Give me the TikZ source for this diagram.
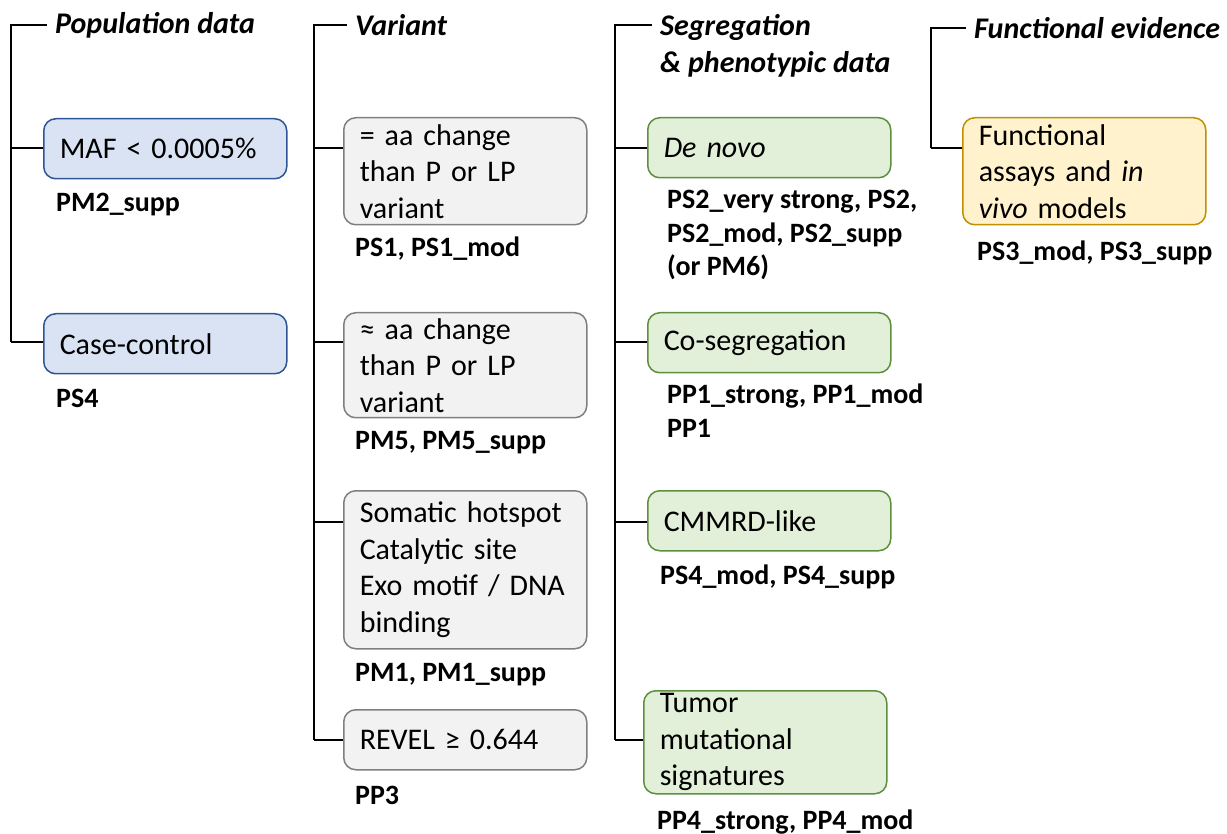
\documentclass[tikz,border=0pt]{standalone}
\usepackage{fontspec}
\setmainfont{Carlito}
\usetikzlibrary{shapes.misc}

\definecolor{popfill}{HTML}{DAE3F3}
\definecolor{popline}{HTML}{2F5597}
\definecolor{varfill}{HTML}{F2F2F2}
\definecolor{varline}{HTML}{7F7F7F}
\definecolor{segfill}{HTML}{E2F0D9}
\definecolor{segline}{HTML}{5E8F3E}
\definecolor{funfill}{HTML}{FFF2CC}
\definecolor{funline}{HTML}{BF9000}

\tikzset{
  critbox/.style={draw, rectangle, rounded corners=12pt, line width=1.5pt,
    anchor=north west, minimum width=243pt, minimum height=60pt,
    text width=211pt, inner xsep=16pt, inner ysep=2pt, align=left,
    font=\fontsize{30}{36.5}\selectfont},
  popbox/.style={critbox, fill=popfill, draw=popline},
  varbox/.style={critbox, fill=varfill, draw=varline},
  segbox/.style={critbox, fill=segfill, draw=segline},
  funbox/.style={critbox, fill=funfill, draw=funline},
  evid/.style={anchor=west, inner sep=0pt, align=left,
    font=\fontsize{28}{33.5}\selectfont\bfseries},
  colhead/.style={anchor=west, inner xsep=8pt, inner ysep=0pt, align=left,
    font=\fontsize{30}{37}\selectfont\bfseries\itshape},
  link/.style={line width=2pt}
}

\begin{document}
\begin{tikzpicture}[x=1pt, y=-1pt]

  \useasboundingbox (0,0) rectangle (1227,834);

  % --- Population data ---
  \coordinate (p0) at (11,25);
  \coordinate (p1) at (11,148);
  \coordinate (p2) at (11,342);
  \node[colhead] (pophead) at (47,25) {Population data};
  \node[popbox] (maf) at (43,118) {MAF < 0.0005\%};
  \node[evid] (mafev) at (56,205) {PM2\_supp};
  \node[popbox] (casectl) at (43,313) {Case-control};
  \node[evid] (casectlev) at (56,398) {PS4};
  \draw[link] (pophead.west) -- (p0) -- (p2);
  \draw[link] (p1) -- (p1 -| maf.west);
  \draw[link] (p2) -- (p2 -| casectl.west);

  % --- Variant ---
  \coordinate (v0) at (314,25);
  \coordinate (v1) at (314,148);
  \coordinate (v2) at (314,342);
  \coordinate (v3) at (314,522);
  \coordinate (v4) at (314,740);
  \node[colhead] (varhead) at (347,25) {Variant};
  \node[varbox, minimum height=107pt] (sameaa) at (343,117)
    {= aa change\\than P or LP\\variant};
  \node[evid] (sameaaev) at (355,249) {PS1, PS1\_mod};
  \node[varbox, minimum height=105pt] (simaa) at (343,312)
    {≈ aa change\\than P or LP\\variant};
  \node[evid] (simaaev) at (355,443) {PM5, PM5\_supp};
  \node[varbox, minimum height=158pt] (hotspot) at (343,490)
    {Somatic hotspot\\Catalytic site\\Exo motif / DNA\\binding};
  \node[evid] (hotspotev) at (355,675) {PM1, PM1\_supp};
  \node[varbox] (revel) at (343,709) {REVEL ≥ 0.644};
  \node[evid] (revelev) at (355,795) {PP3};
  \draw[link] (varhead.west) -- (v0) -- (v4);
  \draw[link] (v1) -- (v1 -| sameaa.west);
  \draw[link] (v2) -- (v2 -| simaa.west);
  \draw[link] (v3) -- (v3 -| hotspot.west);
  \draw[link] (v4) -- (v4 -| revel.west);

  % --- Segregation & phenotypic data ---
  \coordinate (s0) at (615,25);
  \coordinate (s1) at (615,148);
  \coordinate (s2) at (615,342);
  \coordinate (s3) at (615,522);
  \coordinate (s4) at (615,740);
  \node[colhead, anchor=north west] (seghead) at (652,14)
    {Segregation\\\& phenotypic data};
  \node[segbox] (denovo) at (647,117) {\itshape De novo};
  \node[evid, anchor=north west] (denovoev) at (667,190)
    {PS2\_very strong, PS2,\\PS2\_mod, PS2\_supp\\(or PM6)};
  \node[segbox] (coseg) at (647,312) {Co-segregation};
  \node[evid, anchor=north west] (cosegev) at (667,384)
    {PP1\_strong, PP1\_mod\\PP1};
  \node[segbox] (cmmrd) at (647,490) {CMMRD-like};
  \node[evid] (cmmrdev) at (660,577) {PS4\_mod, PS4\_supp};
  \node[segbox, minimum height=103pt] (tumor) at (643,690)
    {Tumor\\mutational\\signatures};
  \node[evid] (tumorev) at (657,822) {PP4\_strong, PP4\_mod};
  \draw[link] (s0 -| seghead.west) -- (s0) -- (s4);
  \draw[link] (s1) -- (s1 -| denovo.west);
  \draw[link] (s2) -- (s2 -| coseg.west);
  \draw[link] (s3) -- (s3 -| cmmrd.west);
  \draw[link] (s4) -- (s4 -| tumor.west);

  % --- Functional evidence ---
  \coordinate (f0) at (931,28);
  \coordinate (f1) at (931,148);
  \node[colhead] (funhead) at (966,28) {Functional evidence};
  \node[funbox, minimum height=107pt] (assays) at (962,117)
    {Functional\\assays and \textit{in}\\\textit{vivo} models};
  \node[evid] (assaysev) at (977,253) {PS3\_mod, PS3\_supp};
  \draw[link] (funhead.west) -- (f0) -- (f1);
  \draw[link] (f1) -- (f1 -| assays.west);

\end{tikzpicture}
\end{document}
